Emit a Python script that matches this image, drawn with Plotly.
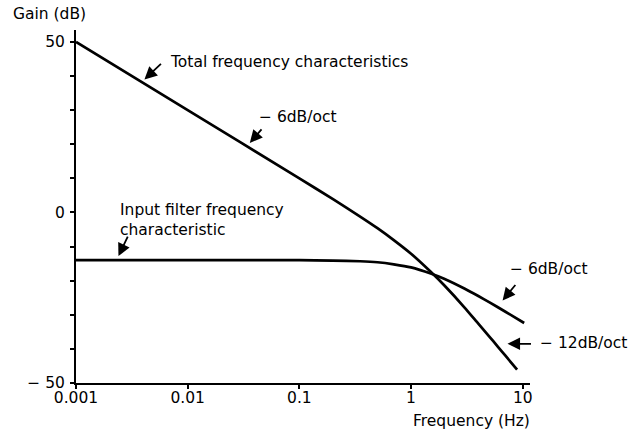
import math
import plotly.graph_objects as go

# Total frequency characteristic (integrator + input filter)
freq_total = [0.001, 0.01, 0.1, 0.2, 0.35, 0.5, 0.7, 1.0, 1.5, 2.0, 3.0, 4.0, 5.0, 6.0, 7.0, 8.9]
gain_total = [50, 30, 10, 3.9, -1.2, -4.6, -8.1, -12.1, -17.4, -21.5, -27.8, -32.6, -36.3, -39.4, -42.0, -46.1]

# Input filter frequency characteristic
freq_filter = [0.001, 0.01, 0.1, 0.2, 0.35, 0.5, 0.7, 1.0, 1.5, 2.0, 3.0, 4.0, 5.0, 7.0, 10.3]
gain_filter = [-14, -14, -14, -14.1, -14.3, -14.6, -15.2, -16.1, -17.9, -19.5, -22.3, -24.5, -26.3, -29.1, -32.4]

x_tick_vals = [0.001, 0.01, 0.1, 1, 10]
x_tick_text = ["0.001", "0.01", "0.1", "1", "10"]
y_tick_vals = [-50, -40, -30, -20, -10, 0, 10, 20, 30, 40, 50]
y_tick_text = ["\u2212 50", "", "", "", "", "0", "", "", "", "", "50"]

W, H = 631, 433
ML, MR, MT, MB = 76, 101, 30, 50
PW, PH = W - ML - MR, H - MT - MB

FONT = "DejaVu Sans, Arial, sans-serif"
FS = 15.5


def px(x, y):
    """Page pixel position -> paper coordinates."""
    return (x - ML) / PW, (H - MB - y) / PH


fig = go.Figure()
line_style = dict(color="black", width=2.7, shape="spline", smoothing=0.6)
fig.add_trace(go.Scatter(x=freq_total, y=gain_total, mode="lines", line=line_style,
                         hoverinfo="skip", showlegend=False))
fig.add_trace(go.Scatter(x=freq_filter, y=gain_filter, mode="lines", line=line_style,
                         hoverinfo="skip", showlegend=False))

annotations = []


def label(text, x, y, xanchor="left", yanchor="middle"):
    xp, yp = px(x, y)
    annotations.append(dict(text=text, x=xp, y=yp, xref="paper", yref="paper",
                            xanchor=xanchor, yanchor=yanchor, showarrow=False,
                            align="left", font=dict(family=FONT, size=FS, color="black")))


def arrow(freq, gain, ax, ay):
    # annotation x on a log axis is given as log10 of the frequency
    annotations.append(dict(text="", x=math.log10(freq), y=gain, xref="x", yref="y",
                            ax=ax, ay=ay, showarrow=True, arrowhead=2, arrowsize=1.4,
                            arrowwidth=1.8, arrowcolor="black", standoff=0))


label("Gain (dB)", 11, 14)
label("Total frequency characteristics", 168, 62)
label("\u2212 6dB/oct", 257, 117)
label("Input filter frequency<br>characteristic", 118, 220)
label("\u2212 6dB/oct", 508, 269)
label("\u2212 12dB/oct", 538, 343)
label("Frequency (Hz)", 532, 421, xanchor="right")

arrow(0.0041, 39.0, 18, -17)
arrow(0.036, 20.4, 13, -15)
arrow(0.0024, -12.8, 10, -21)
arrow(6.6, -25.8, 14, -17)
arrow(7.3, -38.5, 25, 0)

fig.update_layout(
    width=W, height=H,
    margin=dict(l=ML, r=MR, t=MT, b=MB, pad=0),
    paper_bgcolor="white", plot_bgcolor="white",
    font=dict(family=FONT, size=FS, color="black"),
    annotations=annotations,
    xaxis=dict(type="log", range=[-3, 1.065], showgrid=False, zeroline=False,
               showline=True, linecolor="black", linewidth=2,
               ticks="outside", ticklen=4, tickwidth=1.5, tickcolor="black",
               tickvals=x_tick_vals, ticktext=x_tick_text, ticklabelstandoff=-5),
    yaxis=dict(range=[-50, 53.5], showgrid=False, zeroline=False,
               showline=True, linecolor="black", linewidth=2,
               ticks="outside", ticklen=4, tickwidth=1.5, tickcolor="black",
               tickvals=y_tick_vals, ticktext=y_tick_text, ticklabelstandoff=2),
)

fig.write_html("out.html")
